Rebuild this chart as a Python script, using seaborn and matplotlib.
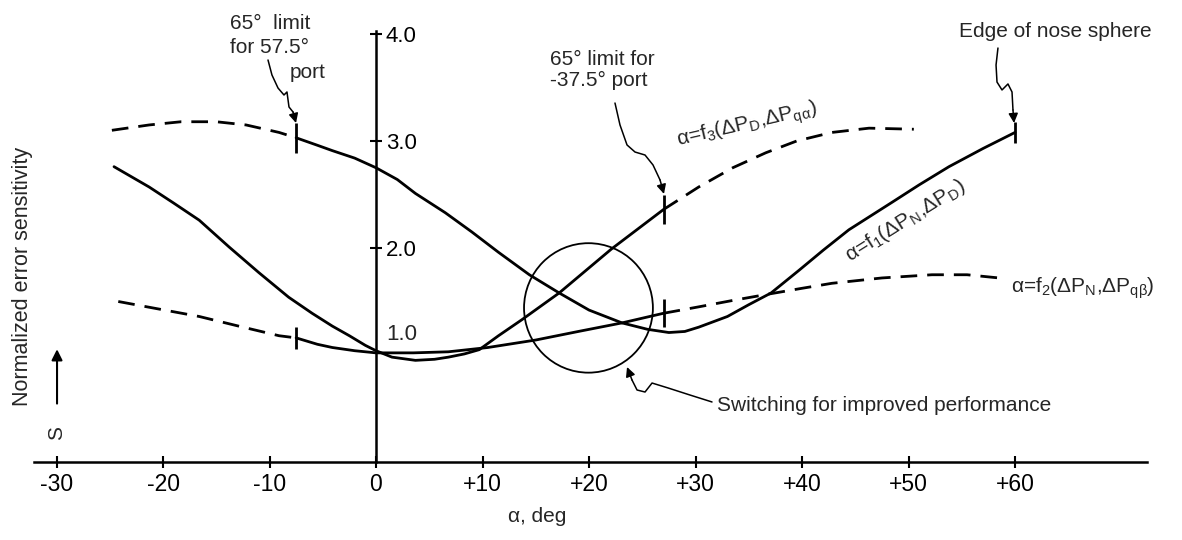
import numpy as np
import pandas as pd
import matplotlib
matplotlib.use("Agg")
import matplotlib.pyplot as plt
from matplotlib.patches import Ellipse
import seaborn as sns

# ---------------- data ----------------
# f1 = f(ΔP_N, ΔP_D)
f1_dash_x = [-24.8, -21.3, -18.3, -15.0, -12.2, -9.1, -7.5]
f1_dash_y = [3.10, 3.15, 3.18, 3.18, 3.15, 3.08, 3.03]
f1_solid_x = [-7.5, -5.5, -4.1, -2.0, 0.0, 2.0, 3.7, 6.5, 9.0, 11.5, 14.4, 17.2, 20.0, 23.1,
              25.5, 27.5, 29.0, 30.3, 33.0, 35.0, 37.1, 39.7, 42.0, 44.4, 48.5, 51.0, 53.8,
              57.0, 60.0]
f1_solid_y = [3.03, 2.96, 2.91, 2.84, 2.75, 2.64, 2.51, 2.33, 2.15, 1.96, 1.75, 1.58, 1.42,
              1.30, 1.24, 1.21, 1.22, 1.26, 1.36, 1.47, 1.58, 1.79, 1.98, 2.17, 2.43, 2.59,
              2.76, 2.93, 3.08]

# f3 = f(ΔP_D, ΔP_qα)
f3_solid_x = [-24.6, -21.3, -19.0, -16.6, -13.8, -11.0, -8.2, -6.0, -4.1, -2.5, -1.0, 0.0,
              1.5, 3.7, 5.5, 6.8, 8.3, 9.7, 11.5, 13.7, 17.2, 22.1, 27.0]
f3_solid_y = [2.76, 2.57, 2.42, 2.26, 2.01, 1.77, 1.54, 1.39, 1.27, 1.18, 1.09, 1.04,
              0.98, 0.95, 0.96, 0.98, 1.01, 1.05, 1.18, 1.33, 1.58, 1.99, 2.36]
f3_dash_x = [27.0, 30.3, 33.5, 36.6, 39.5, 42.8, 46.3, 50.5]
f3_dash_y = [2.36, 2.57, 2.75, 2.89, 3.00, 3.08, 3.12, 3.11]

# f2 = f(ΔP_N, ΔP_qβ)
f2_dash1_x = [-24.2, -21.5, -16.6, -12.9, -9.1, -7.5]
f2_dash1_y = [1.50, 1.45, 1.36, 1.27, 1.18, 1.16]
f2_solid_x = [-7.5, -5.5, -4.1, -2.0, 0.0, 3.5, 6.8, 10.5, 15.0, 19.0, 23.1, 27.0]
f2_solid_y = [1.16, 1.10, 1.07, 1.04, 1.02, 1.02, 1.03, 1.07, 1.14, 1.22, 1.30, 1.39]
f2_dash2_x = [27.0, 30.3, 33.5, 36.9, 39.8, 42.8, 47.5, 52.2, 55.5, 58.5]
f2_dash2_y = [1.39, 1.45, 1.51, 1.57, 1.62, 1.67, 1.72, 1.75, 1.75, 1.72]

x_ticks = [-30, -20, -10, 0, 10, 20, 30, 40, 50, 60]
x_tick_labels = ["-30", "-20", "-10", "0", "+10", "+20", "+30", "+40", "+50", "+60"]
y_ticks = [2.0, 3.0, 4.0]
y_tick_labels = ["2.0", "3.0", "4.0"]

# ---------------- style ----------------
sns.set_style("white")
plt.rcParams["font.family"] = ["Liberation Sans", "DejaVu Sans"]
plt.rcParams["mathtext.fontset"] = "custom"
plt.rcParams["mathtext.rm"] = "Liberation Sans"
plt.rcParams["mathtext.it"] = "Liberation Sans"
plt.rcParams["mathtext.default"] = "rm"

W, H = 1182, 540
fig = plt.figure(figsize=(W / 100, H / 100), dpi=100)
fig.patch.set_facecolor("white")
# x: 0 deg at px 376, 10.65 px/deg ; y: 0 at px 462 (from top), 107 px/unit
xl, xr = -35.0, 75.0
yb, yt = -0.7, 4.3
left_px = 376 + xl * 10.65
right_px = 376 + xr * 10.65
bot_px = 462 - yb * 107
top_px = 462 - yt * 107
ax = fig.add_axes([left_px / W, (H - bot_px) / H, (right_px - left_px) / W, (bot_px - top_px) / H])
ax.set_xlim(xl, xr)
ax.set_ylim(yb, yt)
ax.set_facecolor("white")

LW = 2.0
DASH = (0, (6, 3.6))
segments = [
    (f1_dash_x, f1_dash_y, DASH),
    (f1_solid_x, f1_solid_y, "-"),
    (f3_solid_x, f3_solid_y, "-"),
    (f3_dash_x, f3_dash_y, DASH),
    (f2_dash1_x, f2_dash1_y, DASH),
    (f2_solid_x, f2_solid_y, "-"),
    (f2_dash2_x, f2_dash2_y, DASH),
]
for xs, ys, ls in segments:
    sns.lineplot(x=xs, y=ys, ax=ax, color="black", linewidth=LW, linestyle=ls,
                 sort=False, estimator=None, legend=False)

# limit bars at the segment boundaries
bars = [(f1_solid_x[0], f1_solid_y[0], 0.14), (f2_solid_x[0], f2_solid_y[0], 0.10),
        (f3_dash_x[0], f3_dash_y[0], 0.14), (f2_dash2_x[0], f2_dash2_y[0], 0.13),
        (f1_solid_x[-1], f1_solid_y[-1], 0.10)]
for bx, by, h in bars:
    ax.vlines(bx, by - h, by + h, color="black", linewidth=LW)

# circle
ax.add_patch(Ellipse((19.95, 1.44), 12.1, 1.21, fill=False, edgecolor="black", linewidth=1.3))

# ---------------- axes ----------------
for s in ["top", "left"]:
    ax.spines[s].set_visible(False)
ax.spines["right"].set_position(("data", 0))
ax.spines["right"].set_bounds(0, 4.03)
ax.spines["bottom"].set_position(("data", 0))
ax.spines["bottom"].set_bounds(-32.1, 72.4)
for s in ["right", "bottom"]:
    ax.spines[s].set_linewidth(1.8)
    ax.spines[s].set_color("black")
ax.yaxis.set_ticks_position("right")
ax.xaxis.set_ticks_position("bottom")
ax.set_xticks(x_ticks)
ax.set_xticklabels(x_tick_labels)
ax.set_yticks(y_ticks)
ax.set_yticklabels(y_tick_labels)
ax.tick_params(axis="x", direction="inout", length=8, width=1.5, pad=4, labelsize=16.5, colors="black")
ax.tick_params(axis="y", direction="inout", length=8, width=1.5, pad=3, labelsize=16, colors="black")
ax.set_xlabel("")
ax.set_ylabel("")

ax.text(1.0, 1.19, "1.0", fontsize=16, ha="left", va="center")
ax.text(15.1, -0.514, "α, deg", fontsize=15, ha="center", va="center")
ax.text(-33.15, 1.73, "Normalized error sensitivity", fontsize=15.5, rotation=90,
        ha="center", va="center")
ax.text(-29.95, 0.27, "S", fontsize=15, rotation=90, ha="center", va="center")
ax.annotate("", xy=(-29.95, 1.08), xytext=(-29.95, 0.52),
            arrowprops=dict(arrowstyle="-|>", color="black", lw=1.5, mutation_scale=16))

# ---------------- annotations ----------------
TS = 15
ax.text(-13.71, 4.10, "65°  limit", fontsize=TS, ha="left", va="center")
ax.text(-13.71, 3.87, "for 57.5°", fontsize=TS, ha="left", va="center")
ax.text(-8.08, 3.64, "port", fontsize=TS, ha="left", va="center")
ax.text(16.34, 3.76, "65° limit for", fontsize=TS, ha="left", va="center")
ax.text(16.34, 3.57, "-37.5° port", fontsize=TS, ha="left", va="center")
ax.text(54.74, 4.02, "Edge of nose sphere", fontsize=TS, ha="left", va="center")
ax.text(32.02, 0.53, "Switching for improved performance", fontsize=TS, ha="left", va="center")

LS = 15
ax.text(59.6, 1.58, r"α=f$_2$(ΔP$_{\mathrm{N}}$,ΔP$_{\mathrm{q}β}$)", fontsize=LS,
        ha="left", va="baseline")
ax.text(44.5, 1.87, r"α=f$_1$(ΔP$_{\mathrm{N}}$,ΔP$_{\mathrm{D}}$)", fontsize=LS,
        ha="left", va="baseline", rotation=32, rotation_mode="anchor")
ax.text(28.4, 2.95, r"α=f$_3$(ΔP$_{\mathrm{D}}$,ΔP$_{\mathrm{q}α}$)", fontsize=LS,
        ha="left", va="baseline", rotation=13, rotation_mode="anchor")

leaders = [
    ([-10.14, -9.77, -9.20, -8.64, -8.36, -8.17, -7.79, -7.51],
     [3.757, 3.617, 3.495, 3.430, 3.458, 3.318, 3.271, 3.168]),
    ([22.44, 22.91, 23.57, 24.32, 25.26, 26.01, 26.67, 27.04],
     [3.355, 3.150, 2.963, 2.897, 2.869, 2.776, 2.636, 2.505]),
    ([58.40, 58.22, 58.31, 58.78, 59.34, 59.72, 59.81, 59.91],
     [3.869, 3.710, 3.551, 3.477, 3.533, 3.458, 3.290, 3.168]),
    ([31.55, 29.48, 27.42, 25.92, 25.26, 24.51, 24.04, 23.57],
     [0.561, 0.626, 0.692, 0.738, 0.654, 0.673, 0.766, 0.888]),
]
for lx, ly in leaders:
    ax.plot(lx[:-1], ly[:-1], color="black", lw=1.1, solid_capstyle="round")
    ax.annotate("", xy=(lx[-1], ly[-1]), xytext=(lx[-2], ly[-2]),
                arrowprops=dict(arrowstyle="-|>", color="black", lw=1.1, mutation_scale=14,
                                shrinkA=0, shrinkB=0))

fig.savefig("out.png", dpi=100, facecolor="white")
